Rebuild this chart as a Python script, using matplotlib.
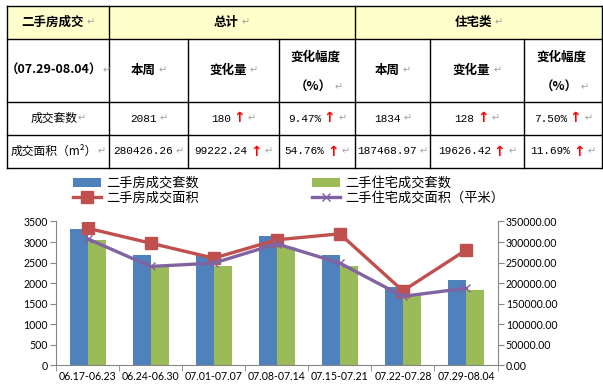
import numpy as np
import matplotlib.pyplot as plt
from matplotlib.patches import Rectangle
from matplotlib.offsetbox import TextArea, HPacker, AnnotationBbox

plt.rcParams['font.family'] = ['Noto Sans CJK SC', 'DejaVu Sans']

# ---- data ----
weeks = ['06.17-06.23', '06.24-06.30', '07.01-07.07', '07.08-07.14',
         '07.15-07.21', '07.22-07.28', '07.29-08.04']
total_units = [3306, 2674, 2680, 3135, 2674, 1901, 2081]
resid_units = [3038, 2447, 2406, 2868, 2406, 1706, 1834]
total_area = [333700, 297300, 260800, 305500, 320000, 181204.02, 280426.26]
resid_area = [308000, 240600, 248700, 295700, 248700, 167842.55, 187468.97]

table_rows = ['成交套数', '成交面积（m²）']
total_now = ['2081', '280426.26']
total_chg = ['180', '99222.24']
total_pct = ['9.47%', '54.76%']
resid_now = ['1834', '187468.97']
resid_chg = ['128', '19626.42']
resid_pct = ['7.50%', '11.69%']

W, H = 603, 388
fig = plt.figure(figsize=(W / 100, H / 100), dpi=100)

# ---- table (pixel coords) ----
tab = fig.add_axes([0, 0, 1, 1])
tab.set_xlim(0, W)
tab.set_ylim(H, 0)
tab.axis('off')

xs = [7, 109, 188, 279, 355, 430, 524, 602]
ys = [6, 39, 102, 135, 168]
yellow = '#ffffcc'
gray = '#a0a0a0'

tab.add_patch(Rectangle((xs[0], ys[0]), xs[-1] - xs[0], ys[1] - ys[0],
                        facecolor=yellow, edgecolor='none'))
lk = dict(color='black', lw=1)
for y in ys:
    tab.plot([xs[0], xs[-1]], [y, y], **lk)
for i, x in enumerate(xs):
    if i in (2, 3, 5, 6):
        tab.plot([x, x], [ys[1], ys[-1]], **lk)
    else:
        tab.plot([x, x], [ys[0], ys[-1]], **lk)


def cell(cx, cy, parts, sep=2):
    kids = [TextArea(txt, textprops=kw) for txt, kw in parts]
    box = HPacker(children=kids, pad=0, sep=sep, align='center')
    ab = AnnotationBbox(box, (cx, cy), xycoords='data', frameon=False,
                        box_alignment=(0.5, 0.5), pad=0)
    tab.add_artist(ab)


hb = dict(fontsize=9, fontweight='bold', color='black')
cb = dict(fontsize=8.5, color='black')
nb = dict(fontsize=8, color='black', family=['Liberation Mono', 'DejaVu Sans'])
ret = dict(fontsize=7, color=gray, family=['DejaVu Sans'])
up = dict(fontsize=10, fontweight='bold', color='#ff0000', family=['DejaVu Sans'])


def mid(a, b):
    return (a + b) / 2


# header row 1
cell(mid(xs[0], xs[1]), mid(ys[0], ys[1]), [('二手房成交', hb), ('↵', ret)])
cell(mid(xs[1], xs[4]), mid(ys[0], ys[1]), [('总计', hb), ('↵', ret)])
cell(mid(xs[4], xs[7]), mid(ys[0], ys[1]), [('住宅类', hb), ('↵', ret)])
# header row 2
cell(mid(xs[0], xs[1]), mid(ys[1], ys[2]), [('（07.29-08.04）', hb), ('↵', ret)], sep=0)
for a, b in [(1, 2), (4, 5)]:
    cell(mid(xs[a], xs[b]), mid(ys[1], ys[2]), [('本周', hb), ('↵', ret)])
for a, b in [(2, 3), (5, 6)]:
    cell(mid(xs[a], xs[b]), mid(ys[1], ys[2]), [('变化量', hb), ('↵', ret)])
for a, b in [(3, 4), (6, 7)]:
    cell(mid(xs[a], xs[b]) - 2, ys[1] + 18, [('变化幅度', hb)])
    cell(mid(xs[a], xs[b]) + 2, ys[1] + 48, [('（%）', hb), ('↵', ret)])

for r, name in enumerate(table_rows):
    cy = mid(ys[r + 2], ys[r + 3])
    cell(mid(xs[0], xs[1]), cy, [(name, cb), ('↵', ret)], sep=0)
    cell(mid(xs[1], xs[2]), cy, [(total_now[r], nb), ('↵', ret)])
    cell(mid(xs[2], xs[3]), cy, [(total_chg[r], nb), ('↑', up), ('↵', ret)])
    cell(mid(xs[3], xs[4]), cy, [(total_pct[r], nb), ('↑', up), ('↵', ret)])
    cell(mid(xs[4], xs[5]), cy, [(resid_now[r], nb), ('↵', ret)])
    cell(mid(xs[5], xs[6]), cy, [(resid_chg[r], nb), ('↑', up), ('↵', ret)])
    cell(mid(xs[6], xs[7]), cy, [(resid_pct[r], nb), ('↑', up), ('↵', ret)])

# ---- chart ----
tickfont = ['Lato', 'Noto Sans CJK SC']
ax = fig.add_axes([56 / W, (H - 365.3) / H, (497.5 - 56) / W, (365.3 - 221.5) / H])
x = np.arange(len(weeks))
bw = 0.285
b1 = ax.bar(x - bw / 2, total_units, bw, color='#4f81bd', label='二手房成交套数')
b2 = ax.bar(x + bw / 2, resid_units, bw, color='#9bbb59', label='二手住宅成交套数')
ax.set_xlim(-0.5, len(weeks) - 0.5)
ax.set_ylim(0, 3500)
ax.set_yticks(np.arange(0, 3501, 500))
ax.set_xticks(x)
ax.set_xticklabels(weeks, family=tickfont, fontsize=7.6)
ax.set_xticks(np.arange(-0.5, len(weeks), 1), minor=True)
ax.tick_params(axis='x', which='major', length=0, pad=4)
ax.tick_params(axis='x', which='minor', length=4, color='#868686')
ax.tick_params(axis='y', length=4, color='#868686', labelsize=7.6, pad=2)
for lab in ax.get_yticklabels():
    lab.set_family(tickfont)
for s in ['top', 'right']:
    ax.spines[s].set_visible(False)
for s in ['left', 'bottom']:
    ax.spines[s].set_color('#868686')

ax2 = ax.twinx()
l1, = ax2.plot(x, total_area, color='#c0504d', lw=2.4, marker='s', ms=8,
               label='二手房成交面积')
l2, = ax2.plot(x, resid_area, color='#8064a2', lw=2.4, marker='x', ms=6,
               mew=1, label='二手住宅成交面积（平米）')
ax2.set_ylim(0, 350000)
ax2.set_yticks(np.arange(0, 350001, 50000))
ax2.set_yticklabels(['%.2f' % v for v in np.arange(0, 350001, 50000)],
                    family=tickfont, fontsize=7.6)
ax2.tick_params(axis='y', length=4, color='#868686', pad=2)
for s in ['top', 'left', 'bottom']:
    ax2.spines[s].set_visible(False)
ax2.spines['right'].set_color('#868686')

fig.legend([b1, l1, b2, l2],
           ['二手房成交套数', '二手房成交面积', '二手住宅成交套数', '二手住宅成交面积（平米）'],
           ncol=2, loc='upper left', bbox_to_anchor=(73 / W, 1 - 177 / H),
           frameon=False, fontsize=9.5, handlelength=2.1, handletextpad=0.4,
           columnspacing=8.6, labelspacing=0.15, borderpad=0, borderaxespad=0)

fig.savefig('out.png', dpi=100)
